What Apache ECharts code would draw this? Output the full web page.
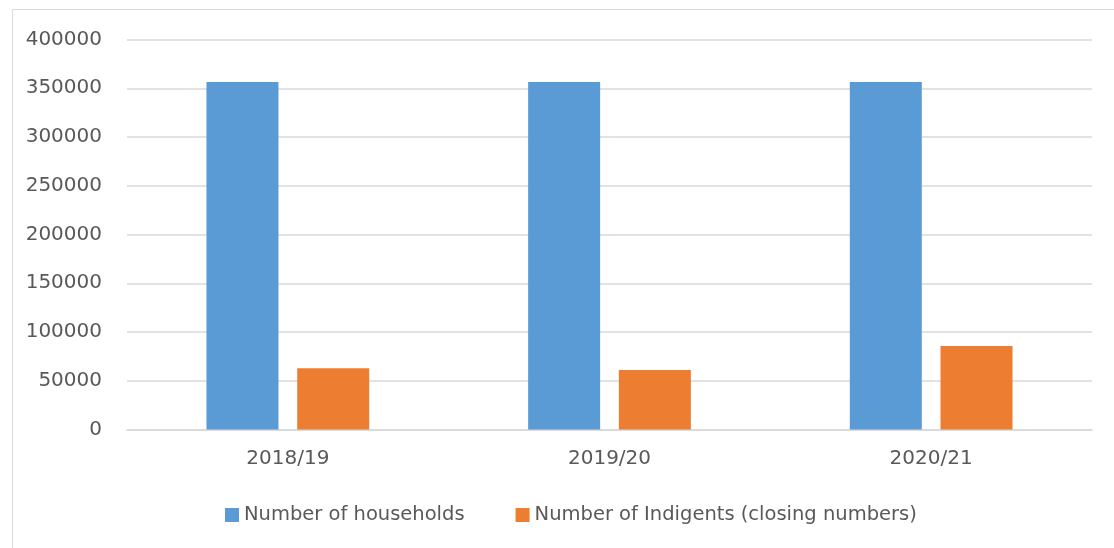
<!DOCTYPE html>
<html>
<head>
<meta charset="utf-8">
<script src="https://cdn.jsdelivr.net/npm/echarts@6/dist/echarts.min.js"></script>
<style>
  html, body { margin: 0; padding: 0; background: #ffffff; }
  #chart { width: 1114px; height: 548px; }
</style>
</head>
<body>
<div id="chart"></div>
<script>
// Financial years shown on the x axis
const years = ['2018/19', '2019/20', '2020/21'];

// Series values
const households = [356500, 356500, 356500];
const indigents = [62800, 61000, 85600];

const seriesNames = ['Number of households', 'Number of Indigents (closing numbers)'];

// Y axis range
const yMin = 0;
const yMax = 400000;
const yStep = 50000;

const textColor = '#595959';
const gridColor = '#d9d9d9';
const fontFamily = '"DejaVu Sans", sans-serif';
const fontSize = 20;

const chart = echarts.init(document.getElementById('chart'), null, { renderer: 'canvas' });

chart.setOption({
  backgroundColor: '#ffffff',
  animation: false,
  graphic: [{
    type: 'rect',
    shape: { x: 12.5, y: 9.5, width: 1200, height: 600 },
    style: { fill: 'none', stroke: gridColor, lineWidth: 1 },
    silent: true
  }],
  grid: { left: 127, right: 22, top: 39.5, bottom: 118.5 },
  legend: {
    bottom: 23,
    left: 225,
    padding: 0,
    itemWidth: 14,
    itemHeight: 14,
    itemGap: 51,
    icon: 'rect',
    textStyle: { color: textColor, fontSize: 19.5, fontFamily: fontFamily },
    data: seriesNames
  },
  xAxis: {
    type: 'category',
    data: years,
    axisLine: { show: true, lineStyle: { color: gridColor, width: 1.5 } },
    axisTick: { show: false },
    axisLabel: { color: textColor, fontSize: fontSize, fontFamily: fontFamily, margin: 19 }
  },
  yAxis: {
    type: 'value',
    min: yMin,
    max: yMax,
    interval: yStep,
    axisLine: { show: false },
    axisTick: { show: false },
    axisLabel: {
      color: textColor,
      fontSize: fontSize,
      fontFamily: fontFamily,
      margin: 25,
      formatter: (v) => String(v)
    },
    splitLine: { lineStyle: { color: gridColor, width: 1.5 } }
  },
  series: [
    {
      name: seriesNames[0],
      type: 'bar',
      data: households,
      barWidth: 72,
      barGap: '26%',
      itemStyle: { color: '#5b9bd5' }
    },
    {
      name: seriesNames[1],
      type: 'bar',
      data: indigents,
      barWidth: 72,
      barGap: '26%',
      itemStyle: { color: '#ed7d31' }
    }
  ]
});
</script>
</body>
</html>
